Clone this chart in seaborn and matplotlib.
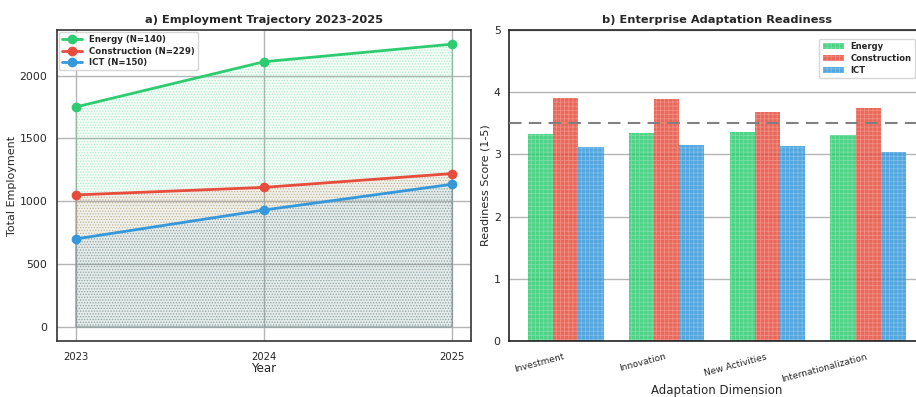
import matplotlib
matplotlib.use("Agg")
import matplotlib.pyplot as plt
import matplotlib.colors as mcolors
from matplotlib.patches import Patch
import numpy as np
import pandas as pd
import seaborn as sns

# ---- data ----
years = [2023, 2024, 2025]
sectors = ["Energy", "Construction", "ICT"]
sector_n = [140, 229, 150]
energy_emp = [1750, 2110, 2250]
construction_emp = [1050, 1110, 1220]
ict_emp = [700, 930, 1135]

dimensions = ["Investment", "Innovation", "New Activities", "Internationalization"]
energy_score = [3.33, 3.34, 3.36, 3.31]
construction_score = [3.91, 3.89, 3.68, 3.75]
ict_score = [3.12, 3.15, 3.13, 3.04]
threshold = 3.5

colors = ["#2ecc71", "#e74c3c", "#3498db"]

sns.set_style("white")
plt.rcParams["font.family"] = ["DejaVu Sans"]
plt.rcParams["hatch.linewidth"] = 0.6

fig = plt.figure(figsize=(9.16, 3.97), dpi=100)
ax1 = fig.add_axes([57 / 916, 1 - 341 / 397, 414 / 916, 311 / 397])
ax2 = fig.add_axes([509 / 916, 1 - 341 / 397, 416 / 916, 311 / 397])

# ---- panel a: employment trajectory ----
emp_series = [energy_emp, construction_emp, ict_emp]
labels = [f"{s} (N={n})" for s, n in zip(sectors, sector_n)]
emp_df = pd.DataFrame({
    "Year": np.tile(years, len(sectors)),
    "Employment": np.concatenate(emp_series),
    "Sector": np.repeat(labels, len(years)),
})

for vals, c in zip(emp_series, colors):
    ax1.fill_between(years, 0, vals, facecolor=mcolors.to_rgba(c, 0.06),
                     edgecolor=mcolors.to_rgba(c, 0.28), hatch="......",
                     linewidth=0.8, zorder=1)

sns.lineplot(data=emp_df, x="Year", y="Employment", hue="Sector",
             palette=colors, marker="o", markersize=7, markeredgewidth=0,
             linewidth=2, ax=ax1, zorder=3)

ax1.set_xticks(years)
ax1.set_xticklabels([str(y) for y in years])
ax1.set_yticks([0, 500, 1000, 1500, 2000])
ax1.grid(True, color="#b5b5b5", linewidth=1, zorder=0)
ax1.set_axisbelow(True)
ax1.set_title("a) Employment Trajectory 2023-2025", fontsize=8.2,
              fontweight="bold", pad=5)
ax1.set_xlabel("Year", fontsize=8.5, labelpad=0)
ax1.set_ylabel("Total Employment", fontsize=8, labelpad=1.5)
ax1.tick_params(axis="y", labelsize=7.8, length=5, color="#b0b0b0",
                direction="out", width=1, pad=2)
ax1.tick_params(axis="x", labelsize=7.2, length=5, color="#b0b0b0",
                direction="out", width=1, pad=3)
for sp in ax1.spines.values():
    sp.set_color("#333333")
    sp.set_linewidth(1.2)
leg1 = ax1.legend(loc="upper left", prop={"weight": "bold", "size": 6.2},
                  frameon=True, borderaxespad=0.25, handlelength=2.3,
                  labelspacing=0.3, borderpad=0.35)
leg1.get_frame().set_edgecolor("#cccccc")

# ---- panel b: adaptation readiness ----
score_series = [energy_score, construction_score, ict_score]
score_df = pd.DataFrame({
    "Dimension": np.tile(dimensions, len(sectors)),
    "Score": np.concatenate(score_series),
    "Sector": np.repeat(sectors, len(dimensions)),
})

sns.barplot(data=score_df, x="Dimension", y="Score", hue="Sector",
            palette=colors, width=0.75, saturation=1, ax=ax2, zorder=2,
            legend=False)

bar_alpha = 0.85
hatch_colors = []
for container, c in zip(ax2.containers, colors):
    light = mcolors.to_hex(np.array(mcolors.to_rgb(c)) * 0.6 + 0.4)
    hatch_colors.append(light)
    for bar in container:
        bar.set_alpha(bar_alpha)
        bar.set_hatch("++++")
        bar.set_edgecolor(light)
        bar.set_linewidth(0)

ax2.axhline(threshold, color="#808080", linestyle=(0, (6, 3.5)), linewidth=1.5, zorder=3)
ax2.set_xlim(-0.5625, 3.5625)
ax2.set_ylim(0, 5)
ax2.set_yticks([0, 1, 2, 3, 4, 5])
ax2.yaxis.grid(True, color="#b5b5b5", linewidth=1, zorder=0)
ax2.set_axisbelow(True)
ax2.set_title("b) Enterprise Adaptation Readiness", fontsize=8.2,
              fontweight="bold", pad=5)
ax2.set_xlabel("Adaptation Dimension", fontsize=8.5, labelpad=0)
ax2.set_ylabel("Readiness Score (1-5)", fontsize=8, labelpad=2.5)
ax2.set_xticks(range(len(dimensions)))
ax2.set_xticklabels(dimensions, rotation=15, ha="right", fontsize=6.5)
ax2.tick_params(axis="y", labelsize=7.8, length=4, color="#555555", pad=2)
ax2.tick_params(axis="x", length=4, color="#555555", pad=4)
for sp in ax2.spines.values():
    sp.set_color("#222222")
    sp.set_linewidth(1.2)

handles = [Patch(facecolor=c, edgecolor=hc, hatch="++++", linewidth=0,
                 alpha=bar_alpha, label=s)
           for c, hc, s in zip(colors, hatch_colors, sectors)]
leg2 = ax2.legend(handles=handles, loc="upper right",
                  prop={"weight": "bold", "size": 6},
                  frameon=True, bbox_to_anchor=(0.985, 0.985), labelspacing=0.35,
                  handlelength=2.5, borderpad=0.4)
leg2.get_frame().set_edgecolor("#cccccc")

fig.savefig("out.png", dpi=100)
